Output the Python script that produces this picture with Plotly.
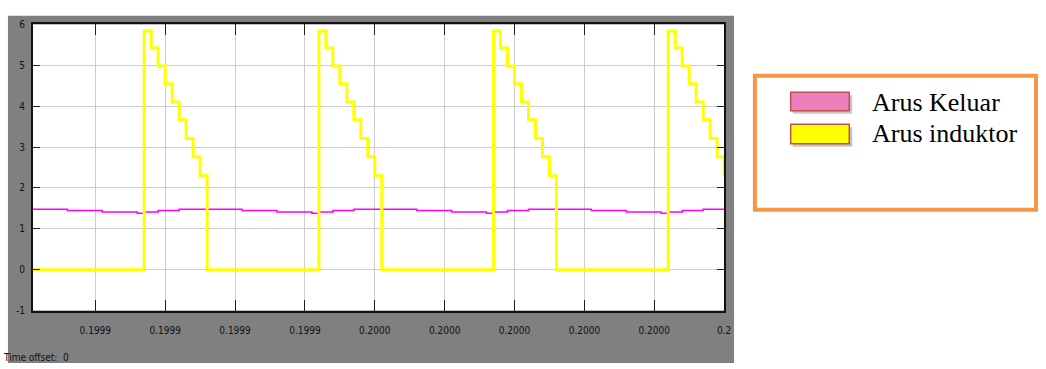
import plotly.graph_objects as go

W, H = 1046, 369

# ---------------- data ----------------
# time axis (seconds)
x_range = [0.19990105, 0.2]
tick_vals = [0.19991, 0.19992, 0.19993, 0.19994, 0.19995, 0.19996, 0.19997, 0.19998, 0.19999, 0.2]
tick_text = ["0.1999", "0.1999", "0.1999", "0.1999", "0.2000", "0.2000", "0.2000", "0.2000", "0.2000", "0.2"]
y_ticks = [-1, 0, 1, 2, 3, 4, 5, 6]

# Arus induktor (yellow, zero-order-hold steps)
t_induktor = [
    0.19990105,
    0.199917, 0.199918, 0.199919, 0.199920, 0.199921, 0.199922, 0.199923, 0.199924, 0.199925, 0.199926,
    0.199942, 0.199943, 0.199944, 0.199945, 0.199946, 0.199947, 0.199948, 0.199949, 0.199950, 0.199951,
    0.199967, 0.199968, 0.199969, 0.199970, 0.199971, 0.199972, 0.199973, 0.199974, 0.199975, 0.199976,
    0.199992, 0.199993, 0.199994, 0.199995, 0.199996, 0.199997, 0.199998, 0.199999, 0.200000,
]
arus_induktor = [
    0.0,
    5.84, 5.42, 4.98, 4.55, 4.10, 3.67, 3.21, 2.76, 2.30, 0.0,
    5.84, 5.42, 4.98, 4.55, 4.10, 3.67, 3.21, 2.76, 2.30, 0.0,
    5.84, 5.42, 4.98, 4.55, 4.10, 3.67, 3.21, 2.76, 2.30, 0.0,
    5.84, 5.42, 4.98, 4.55, 4.10, 3.67, 3.21, 2.76, 2.30,
]

# Arus keluar (magenta)
t_keluar = [
    0.19990105, 0.199906, 0.199911, 0.199916, 0.199917, 0.199919, 0.199922,
    0.199931, 0.199936, 0.199941, 0.199942, 0.199944, 0.199947,
    0.199956, 0.199961, 0.199966, 0.199967, 0.199969, 0.199972,
    0.199981, 0.199986, 0.199991, 0.199992, 0.199994, 0.199997, 0.200000,
]
arus_keluar = [
    1.48, 1.45, 1.41, 1.38, 1.41, 1.45, 1.48,
    1.45, 1.41, 1.38, 1.41, 1.45, 1.48,
    1.45, 1.41, 1.38, 1.41, 1.45, 1.48,
    1.45, 1.41, 1.38, 1.41, 1.45, 1.48, 1.48,
]

legend_names = ["Arus Keluar", "Arus induktor"]
legend_fill = ["#EF7FBA", "#FFFF00"]

# ---------------- helpers ----------------
def px(x):
    return x / W


def py(y):
    return 1 - y / H


TICK_FONT = dict(family="Liberation Sans Narrow, Arial Narrow, DejaVu Sans Condensed, sans-serif",
                 size=10, color="#111111")

fig = go.Figure()
fig.add_trace(go.Scatter(x=t_keluar, y=arus_keluar, mode="lines", name=legend_names[0],
                         line=dict(color="#FF00FF", width=1.5, shape="hv"), showlegend=False))
fig.add_trace(go.Scatter(x=t_induktor, y=arus_induktor, mode="lines", name=legend_names[1],
                         line=dict(color="#FFFF00", width=3, shape="hv"), showlegend=False))

shapes = [
    # grey scope background
    dict(type="rect", xref="paper", yref="paper", layer="below",
         x0=px(8), x1=px(739), y0=py(369), y1=py(11),
         fillcolor="#808080", line=dict(width=0)),
    # white plotting area
    dict(type="rect", xref="paper", yref="paper", layer="below",
         x0=px(33), x1=px(729), y0=py(315), y1=py(20),
         fillcolor="#FFFFFF", line=dict(width=0)),
    # legend box
    dict(type="rect", xref="paper", yref="paper", layer="above",
         x0=px(760), x1=px(1043), y0=py(211), y1=py(73),
         fillcolor="#FFFFFF", line=dict(color="#F79646", width=4)),
]

# legend swatches (with soft shadow)
sw_y = [(90, 109), (123, 143)]
for (ya, yb), col in zip(sw_y, legend_fill):
    shapes.append(dict(type="rect", xref="paper", yref="paper", layer="above",
                       x0=px(798), x1=px(858), y0=py(yb + 3), y1=py(ya + 3),
                       fillcolor="rgba(0,0,0,0.22)", line=dict(width=0)))
    shapes.append(dict(type="rect", xref="paper", yref="paper", layer="above",
                       x0=px(796), x1=px(855), y0=py(yb), y1=py(ya),
                       fillcolor=col, line=dict(color="#C0504D", width=1.5)))

annotations = []
for name, yc in zip(legend_names, [101, 132]):
    annotations.append(dict(text=name, xref="paper", yref="paper", x=px(876), y=py(yc),
                            xanchor="left", yanchor="middle", showarrow=False,
                            font=dict(family="Liberation Serif, Times New Roman, serif",
                                      size=26, color="#000000")))
annotations.append(dict(text="Time offset:  0", xref="paper", yref="paper", x=px(1), y=py(363),
                        xanchor="left", yanchor="middle", showarrow=False, font=TICK_FONT))

fig.update_layout(
    width=W, height=H, autosize=False,
    margin=dict(l=0, r=0, t=0, b=0),
    paper_bgcolor="#FFFFFF", plot_bgcolor="rgba(0,0,0,0)",
    shapes=shapes, annotations=annotations,
    showlegend=False,
    xaxis=dict(domain=[px(33), px(729)], range=x_range,
               tickmode="array", tickvals=tick_vals, ticktext=tick_text,
               showgrid=True, gridcolor="#CDCDCD", gridwidth=1.2, zeroline=False,
               showline=True, linecolor="#111111", linewidth=1.5, mirror="ticks",
               ticks="inside", ticklen=11, tickwidth=1.2, tickcolor="#222222",
               tickfont=TICK_FONT, ticklabelstandoff=10),
    yaxis=dict(domain=[py(315), py(20)], range=[-1, 6],
               tickmode="array", tickvals=y_ticks, ticktext=[str(v) for v in y_ticks],
               showgrid=True, gridcolor="#CDCDCD", gridwidth=1.2, zeroline=False,
               showline=True, linecolor="#111111", linewidth=1.5, mirror="ticks",
               ticks="inside", ticklen=7, tickwidth=1.2, tickcolor="#222222",
               tickfont=TICK_FONT, ticklabelstandoff=4),
)

fig.write_html("out.html", config={"displayModeBar": False},
               post_script="document.body.style.margin='0';document.body.style.overflow='hidden';")
